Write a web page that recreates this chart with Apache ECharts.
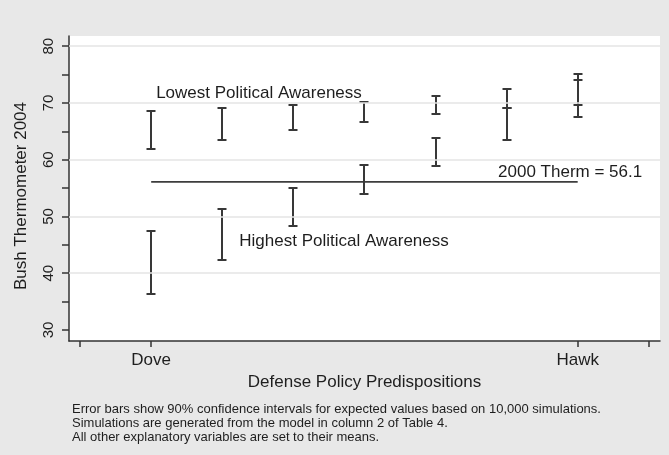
<!DOCTYPE html>
<html>
<head>
<meta charset="utf-8">
<title>Bush Thermometer 2004</title>
<script src="https://cdn.jsdelivr.net/npm/echarts@6/dist/echarts.min.js"></script>
<style>
  html, body { margin: 0; padding: 0; background: #e8e8e8; }
  #main { width: 669px; height: 455px; }
</style>
</head>
<body>
<div id="main"></div>
<script type="text/javascript">
  // x positions of the simulated predisposition values (Dove .. Hawk)
  var positions = [0, 1, 2, 3, 4, 5, 6];
  var tickLabelPos = [0, 6];
  var tickLabelNames = ['Dove', 'Hawk'];

  // 90% confidence intervals, lowest political awareness
  var lowAwareHi = [68.6, 69.05, 69.6, 70.1, 71.15, 72.4, 74.1];
  var lowAwareLo = [61.8, 63.5, 65.25, 66.7, 68.1, 69.1, 67.6];
  // 90% confidence intervals, highest political awareness
  var highAwareHi = [47.5, 51.4, 55.1, 59.1, 63.8, 69.1, 75.1];
  var highAwareLo = [36.3, 42.35, 48.25, 53.95, 58.9, 63.5, 69.6];

  // 2000 thermometer reference line
  var thermX = [0, 6];
  var thermValue = 56.1;

  var gridValues = [40, 50, 60, 70, 80];
  var yTicks = [30, 35, 40, 45, 50, 55, 60, 65, 70, 75, 80];
  var yLabels = [30, 40, 50, 60, 70, 80];

  var notes = [
    { name: 'Lowest Political Awareness', value: [0.07, 71.65] },
    { name: 'Highest Political Awareness', value: [1.24, 45.55] },
    { name: '2000 Therm = 56.1', value: [4.88, 57.7] }
  ];

  var footnote = [
    'Error bars show 90% confidence intervals for expected values based on 10,000 simulations.',
    'Simulations are generated from the model in column 2 of Table 4.',
    'All other explanatory variables are set to their means.'
  ];

  function barData(lo, hi) {
    var out = [];
    for (var i = 0; i < positions.length; i++) {
      out.push([positions[i], lo[i], hi[i]]);
    }
    return out;
  }

  function renderBar(params, api) {
    var x = api.value(0);
    var lo = api.coord([x, api.value(1)]);
    var hi = api.coord([x, api.value(2)]);
    var cx = Math.round(lo[0]);
    var y1 = Math.round(lo[1]);
    var y2 = Math.round(hi[1]);
    var w = 4.5;
    var style = { stroke: '#383838', lineWidth: 2, fill: null };
    return {
      type: 'group',
      children: [
        { type: 'line', shape: { x1: cx, y1: y1, x2: cx, y2: y2 }, style: style },
        { type: 'line', shape: { x1: cx - w, y1: y1, x2: cx + w, y2: y1 }, style: style },
        { type: 'line', shape: { x1: cx - w, y1: y2, x2: cx + w, y2: y2 }, style: style }
      ]
    };
  }

  var font = 'Liberation Sans, Arial, Helvetica, sans-serif';
  var chart = echarts.init(document.getElementById('main'));

  var option = {
    backgroundColor: '#e8e8e8',
    animation: false,
    textStyle: { fontFamily: font, color: '#1e1e1e' },
    grid: {
      left: 69, right: 9, top: 36, bottom: 114,
      show: true, backgroundColor: '#ffffff', borderWidth: 0
    },
    xAxis: {
      type: 'value',
      min: -1.156,
      max: 7.158,
      name: 'Defense Policy Predispositions',
      nameLocation: 'middle',
      nameGap: 28,
      nameTextStyle: { fontSize: 17, color: '#1e1e1e', fontFamily: font },
      axisLine: { onZero: false, lineStyle: { color: '#333', width: 1.5 } },
      axisTick: { show: true, length: 6, customValues: [-1, 0, 6, 7], lineStyle: { color: '#333', width: 1.5 } },
      axisLabel: {
        customValues: tickLabelPos,
        margin: 11,
        fontSize: 17,
        color: '#1e1e1e',
        formatter: function (v) {
          var i = tickLabelPos.indexOf(v);
          return i >= 0 ? tickLabelNames[i] : '';
        }
      },
      splitLine: { show: false }
    },
    yAxis: {
      type: 'value',
      min: 28.05,
      max: 81.8,
      name: 'Bush Thermometer 2004',
      nameLocation: 'middle',
      nameGap: 39,
      nameTextStyle: { fontSize: 17, color: '#1e1e1e', fontFamily: font, padding: [0, 15, 0, 0] },
      axisLine: { show: true, onZero: false, lineStyle: { color: '#333', width: 1.5 } },
      axisTick: { show: true, length: 7, customValues: yTicks, lineStyle: { color: '#333', width: 1.5 } },
      axisLabel: { customValues: yLabels, rotate: 90, margin: 13, fontSize: 15, color: '#1e1e1e' },
      splitLine: { show: false }
    },
    series: [
      {
        name: 'grid',
        type: 'line',
        data: [],
        z: 1,
        silent: true,
        markLine: {
          silent: true,
          symbol: 'none',
          label: { show: false },
          lineStyle: { color: '#e4e4e4', width: 1.5, type: 'solid' },
          data: gridValues.map(function (v) { return { yAxis: v }; })
        }
      },
      {
        name: 'therm',
        type: 'line',
        data: thermX.map(function (x) { return [x, thermValue]; }),
        symbol: 'none',
        lineStyle: { color: '#3d3d3d', width: 1.8 },
        z: 3
      },
      {
        name: 'Lowest Political Awareness',
        type: 'custom',
        renderItem: renderBar,
        data: barData(lowAwareLo, lowAwareHi),
        z: 4
      },
      {
        name: 'Highest Political Awareness',
        type: 'custom',
        renderItem: renderBar,
        data: barData(highAwareLo, highAwareHi),
        z: 4
      },
      {
        name: 'notes',
        type: 'scatter',
        symbolSize: 0,
        data: notes,
        silent: true,
        z: 5,
        itemStyle: { opacity: 1 },
        label: {
          show: true,
          position: 'right',
          distance: 0,
          formatter: '{b}',
          fontSize: 17,
          fontFamily: font,
          color: '#1e1e1e',
          opacity: 1
        }
      }
    ],
    graphic: [
      {
        type: 'text',
        left: 72,
        top: 402,
        style: {
          text: footnote.join('\n'),
          font: '13px ' + font,
          lineHeight: 14,
          fill: '#1e1e1e'
        }
      }
    ]
  };

  chart.setOption(option);
</script>
</body>
</html>
